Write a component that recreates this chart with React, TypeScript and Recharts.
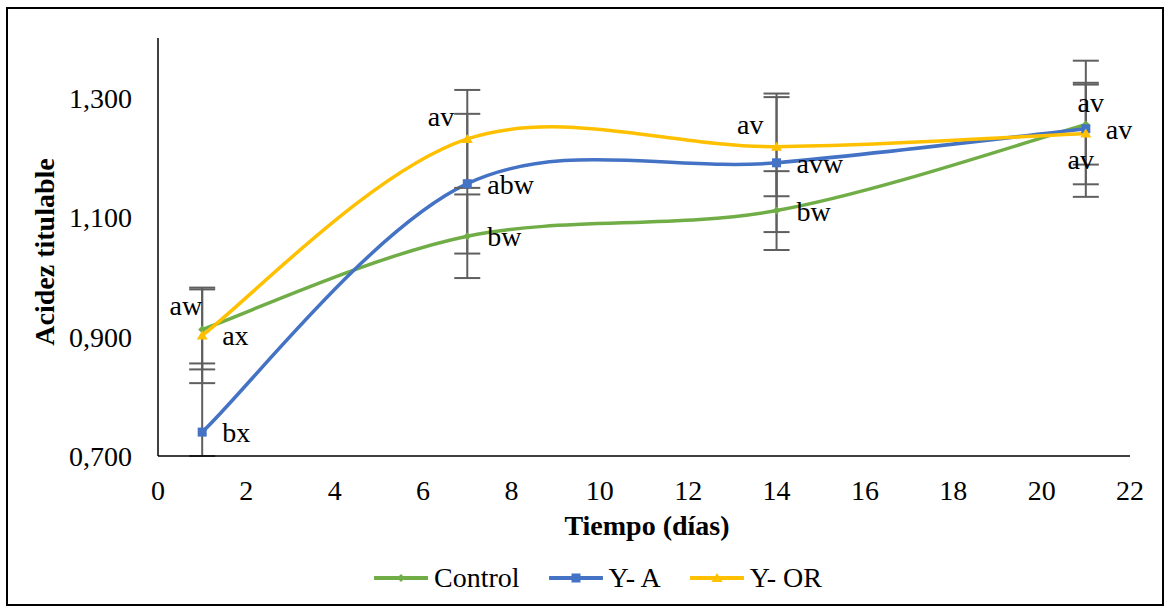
import { LineChart, Line, XAxis, YAxis, ErrorBar, LabelList, Legend } from 'recharts';

const days = [1, 7, 14, 21];

const control = [0.912, 1.068, 1.111, 1.255];
const controlErr = [0.067, 0.07, 0.066, 0.067];
const controlLabels = ['aw', 'bw', 'bw', 'av'];

const yA = [0.74, 1.156, 1.191, 1.248];
const yAErr = [0.115, 0.117, 0.116, 0.114];
const yALabels = ['bx', 'abw', 'avw', 'av'];

const yOR = [0.902, 1.231, 1.218, 1.24];
const yORErr = [0.08, 0.082, 0.083, 0.085];
const yORLabels = ['ax', 'av', 'av', 'av'];

const xTicks = [0, 2, 4, 6, 8, 10, 12, 14, 16, 18, 20, 22];
const yTicks = [0.7, 0.9, 1.1, 1.3];
const Y_MIN = 0.7;

const data = days.map((d, i) => ({
    day: d,
    control: control[i],
    controlErr: controlErr[i],
    yA: yA[i],
    yAErr: yAErr[i],
    yOR: yOR[i],
    yORErr: yORErr[i],
}));

const FONT = 'Liberation Serif, Tinos, Times New Roman, Nimbus Roman, DejaVu Serif, serif';
const FS = 28;
const GREEN = '#70AD47';
const BLUE = '#4472C4';
const YELLOW = '#FFC000';
const GREY = '#5f5f5f';

// where each letter label sits relative to its point
const SPOTS: Record<string, { anchor: 'start' | 'middle' | 'end'; dx: number; dy: number }> = {
    right: { anchor: 'start', dx: 20, dy: 10 },
    leftAbove: { anchor: 'end', dx: -13, dy: -13 },
    onBarAbove: { anchor: 'end', dx: 0, dy: -14 },
    above: { anchor: 'middle', dx: 5, dy: -13 },
    below: { anchor: 'middle', dx: -5, dy: 35 },
};
const controlSpots = ['onBarAbove', 'right', 'right', 'above'];
const yASpots = ['right', 'right', 'right', 'right'];
const yORSpots = ['right', 'leftAbove', 'leftAbove', 'below'];

// error bar as [down, up], cut at the bottom of the axis like the original
const errOf = (valKey: string, errKey: string) => (row: any) => {
    const e = row[errKey];
    return [Math.min(e, row[valKey] - Y_MIN), e];
};

// Excel-like smoothed line (Catmull-Rom through the points)
function excelSmooth(context: any) {
    let pts: number[][] = [];
    return {
        areaStart() {},
        areaEnd() {},
        lineStart() { pts = []; },
        lineEnd() {
            const n = pts.length;
            if (!n) return;
            context.moveTo(pts[0][0], pts[0][1]);
            for (let i = 0; i < n - 1; i++) {
                const p0 = pts[Math.max(i - 1, 0)];
                const p1 = pts[i];
                const p2 = pts[i + 1];
                const p3 = pts[Math.min(i + 2, n - 1)];
                context.bezierCurveTo(
                    p1[0] + (p2[0] - p0[0]) / 6, p1[1] + (p2[1] - p0[1]) / 6,
                    p2[0] - (p3[0] - p1[0]) / 6, p2[1] - (p3[1] - p1[1]) / 6,
                    p2[0], p2[1],
                );
            }
        },
        point(x: number, y: number) { pts.push([+x, +y]); },
    };
}

function Marker({ kind, x, y, color }: { kind: string; x: number; y: number; color: string }) {
    if (kind === 'diamond') {
        return <polygon points={`${x},${y - 4} ${x + 4},${y} ${x},${y + 4} ${x - 4},${y}`} fill={color} />;
    }
    if (kind === 'square') {
        return <rect x={x - 4.5} y={y - 4.5} width={9} height={9} fill={color} />;
    }
    return <polygon points={`${x},${y - 5} ${x + 5.5},${y + 4} ${x - 5.5},${y + 4}`} fill={color} />;
}

const makeDot = (kind: string, color: string) => (props: any) => (
    <Marker key={`${kind}-${props.index}`} kind={kind} x={props.cx} y={props.cy} color={color} />
);

const makeLabel = (texts: string[], spots: string[]) => (props: any) => {
    const s = SPOTS[spots[props.index]];
    return (
        <text
            x={props.x + s.dx}
            y={props.y + s.dy}
            textAnchor={s.anchor}
            fontFamily={FONT}
            fontSize={FS}
            fill="#000"
        >
            {texts[props.index]}
        </text>
    );
};

const legendItems = [
    { name: 'Control', color: GREEN, kind: 'diamond' },
    { name: 'Y- A', color: BLUE, kind: 'square' },
    { name: 'Y- OR', color: YELLOW, kind: 'triangle' },
];

const renderLegend = () => (
    <div style={{ height: 61, display: 'flex', justifyContent: 'center', alignItems: 'center', paddingLeft: 31, paddingTop: 3, boxSizing: 'border-box' }}>
        {legendItems.map((it, i) => (
            <div key={it.name} style={{ display: 'flex', alignItems: 'center', marginLeft: i ? 29 : 0 }}>
                <svg width={54} height={14}>
                    <line x1={1} y1={7} x2={53} y2={7} stroke={it.color} strokeWidth={4} strokeLinecap="round" />
                    <Marker kind={it.kind} x={27} y={7} color={it.color} />
                </svg>
                <span style={{ fontFamily: FONT, fontSize: FS, color: '#000', marginLeft: 6, lineHeight: '32px' }}>{it.name}</span>
            </div>
        ))}
    </div>
);

export default function App() {
    return (
        <div style={{ position: 'absolute', left: 0, top: 0, width: 1165, height: 607, background: '#fff', fontFamily: FONT }}>
            <div style={{ position: 'absolute', left: 6, top: 7, width: 1158, height: 599, border: '2px solid #000', boxSizing: 'border-box' }} />
            <LineChart width={1165} height={607} data={data} margin={{ top: 38, right: 35, left: 0, bottom: 0 }}>
                <XAxis
                    dataKey="day"
                    type="number"
                    domain={[0, 22]}
                    ticks={xTicks}
                    allowDataOverflow
                    height={90}
                    tickLine={false}
                    tickMargin={18}
                    axisLine={{ stroke: '#000', strokeWidth: 1.5 }}
                    tick={{ fontFamily: FONT, fontSize: FS, fill: '#000' }}
                    label={(p: any) => {
                        const vb = p.viewBox;
                        return (
                            <text x={vb.x + vb.width / 2 + 3} y={535} textAnchor="middle" fontFamily={FONT} fontSize={FS} fontWeight="bold" fill="#000">
                                Tiempo (días)
                            </text>
                        );
                    }}
                />
                <YAxis
                    type="number"
                    domain={[0.7, 1.4]}
                    ticks={yTicks}
                    allowDataOverflow
                    width={158}
                    tickLine={false}
                    tickMargin={20}
                    axisLine={{ stroke: '#000', strokeWidth: 1.5 }}
                    tick={{ fontFamily: FONT, fontSize: FS, fill: '#000' }}
                    tickFormatter={(v: number) => v.toFixed(3).replace('.', ',')}
                    label={(p: any) => {
                        const vb = p.viewBox;
                        const cy = vb.y + vb.height / 2 + 5;
                        return (
                            <text x={44} y={cy} transform={`rotate(-90 44 ${cy})`} textAnchor="middle" dominantBaseline="central" fontFamily={FONT} fontSize={FS} fontWeight="bold" fill="#000">
                                Acidez titulable
                            </text>
                        );
                    }}
                />
                <Legend verticalAlign="bottom" content={renderLegend} wrapperStyle={{ left: 0, width: 1165 }} />
                <Line
                    dataKey="control"
                    type={excelSmooth as any}
                    stroke={GREEN}
                    strokeWidth={3.5}
                    dot={makeDot('diamond', GREEN)}
                    activeDot={false}
                    isAnimationActive={false}
                >
                    <ErrorBar dataKey={errOf('control', 'controlErr')} width={13} strokeWidth={2} stroke={GREY} direction="y" isAnimationActive={false} />
                    <LabelList dataKey="control" content={makeLabel(controlLabels, controlSpots)} />
                </Line>
                <Line
                    dataKey="yA"
                    type={excelSmooth as any}
                    stroke={BLUE}
                    strokeWidth={3.5}
                    dot={makeDot('square', BLUE)}
                    activeDot={false}
                    isAnimationActive={false}
                >
                    <ErrorBar dataKey={errOf('yA', 'yAErr')} width={13} strokeWidth={2} stroke={GREY} direction="y" isAnimationActive={false} />
                    <LabelList dataKey="yA" content={makeLabel(yALabels, yASpots)} />
                </Line>
                <Line
                    dataKey="yOR"
                    type={excelSmooth as any}
                    stroke={YELLOW}
                    strokeWidth={3.5}
                    dot={makeDot('triangle', YELLOW)}
                    activeDot={false}
                    isAnimationActive={false}
                >
                    <ErrorBar dataKey={errOf('yOR', 'yORErr')} width={13} strokeWidth={2} stroke={GREY} direction="y" isAnimationActive={false} />
                    <LabelList dataKey="yOR" content={makeLabel(yORLabels, yORSpots)} />
                </Line>
            </LineChart>
        </div>
    );
}
